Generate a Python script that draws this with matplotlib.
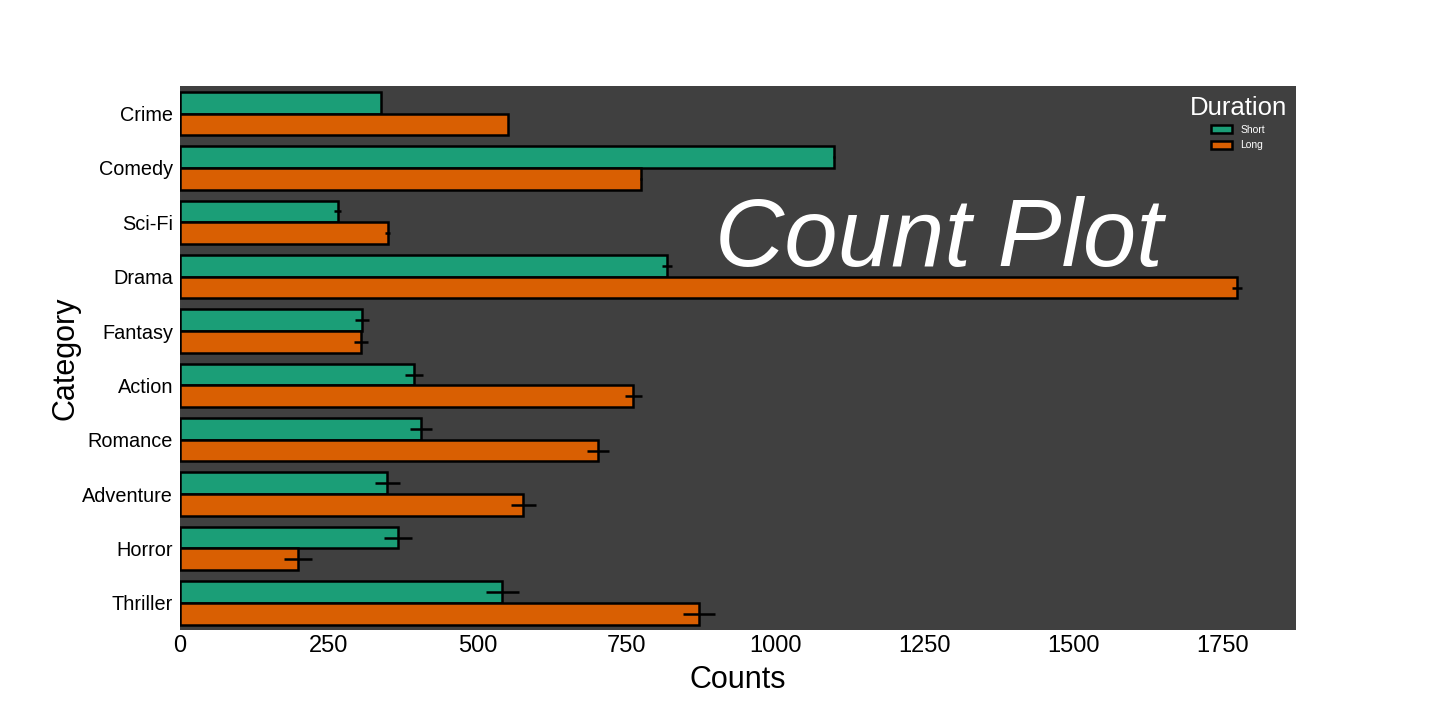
import numpy as np
import matplotlib.pyplot as plt

plt.rcParams['font.family'] = ['Liberation Sans', 'DejaVu Sans']

categories = ['Crime', 'Comedy', 'Sci-Fi', 'Drama', 'Fantasy', 'Action',
              'Romance', 'Adventure', 'Horror', 'Thriller']
short_counts = [338, 1098, 265, 818, 306, 393, 405, 348, 366, 541]
short_err = [0, 2, 6, 8, 12, 15, 18, 21, 23, 28]
long_counts = [551, 774, 349, 1775, 304, 761, 702, 576, 198, 872]
long_err = [0, 2, 4, 8, 12, 14, 18, 21, 24, 27]

fig, ax = plt.subplots(figsize=(14.4, 7.2), dpi=100)
fig.subplots_adjust(left=0.125, right=0.9, bottom=0.125, top=0.88)
ax.set_facecolor('#404040')

y = np.arange(len(categories))
h = 0.4
ax.barh(y - h / 2, short_counts, height=h, color='#1b9e77', edgecolor='black',
        linewidth=1.8, label='Short')
ax.barh(y + h / 2, long_counts, height=h, color='#d95f02', edgecolor='black',
        linewidth=1.8, label='Long')
ax.errorbar(short_counts, y - h / 2, xerr=short_err, fmt='none', ecolor='black',
            elinewidth=1.8, capsize=0)
ax.errorbar(long_counts, y + h / 2, xerr=long_err, fmt='none', ecolor='black',
            elinewidth=1.8, capsize=0)

ax.set_yticks(y)
ax.set_yticklabels(categories, fontsize=14.3)
ax.set_ylim(len(categories) - 0.5, -0.5)
ax.set_xlim(0, 1874)
ax.set_xticks([0, 250, 500, 750, 1000, 1250, 1500, 1750])
ax.tick_params(axis='x', labelsize=17, length=0)
ax.tick_params(axis='y', length=0, pad=5)
for s in ax.spines.values():
    s.set_visible(False)

ax.set_xlabel('Counts', fontsize=22, labelpad=6)
ax.set_ylabel('Category', fontsize=22, labelpad=1)

ax.text(0.68, 0.715, 'Count Plot', transform=ax.transAxes, fontsize=69,
        style='italic', color='white', ha='center', va='center')

leg = ax.legend(title='Duration', loc='upper right', frameon=False, fontsize=7.5,
                title_fontsize=18.5, handlelength=2, handleheight=0.8)
leg.get_title().set_color('white')
for t in leg.get_texts():
    t.set_color('white')

fig.savefig('out.png', dpi=100)
